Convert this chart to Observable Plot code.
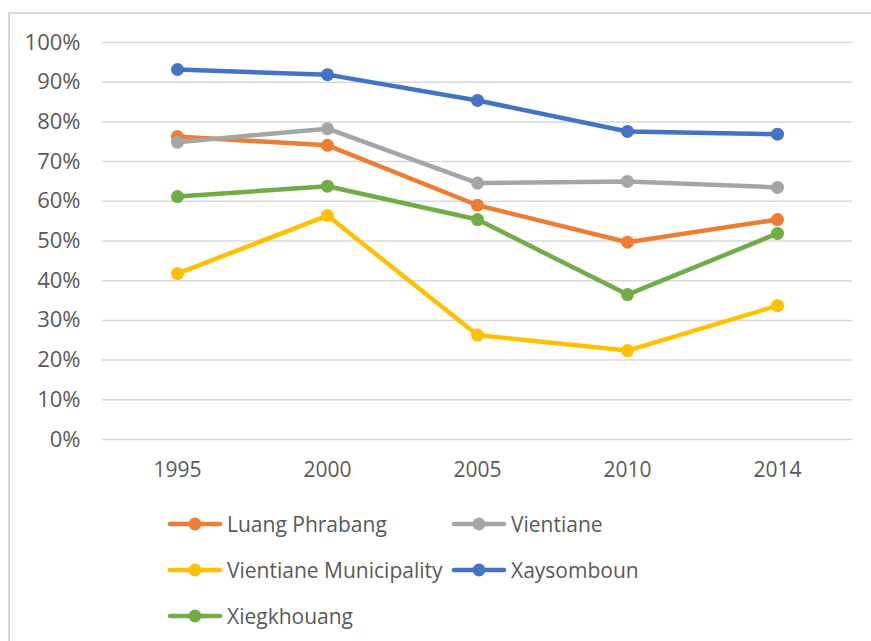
<!DOCTYPE html>
<html>
<head>
<meta charset="utf-8">
<script src="https://cdn.jsdelivr.net/npm/d3@7"></script>
<script src="https://cdn.jsdelivr.net/npm/@observablehq/plot@0.6"></script>
<style>
  html, body { margin: 0; padding: 0; background: #fff; }
  #wrap { position: relative; width: 871px; height: 641px; overflow: hidden; font-family: "Open Sans", sans-serif; }
  #frame { position: absolute; left: 8px; top: 12px; right: -10px; bottom: -10px; border-left: 2px solid #d9d9d9; border-top: 2px solid #d9d9d9; }
  #chart { position: absolute; left: 0; top: 0; }
  #legend { position: absolute; left: 167px; top: 506px; display: grid; grid-template-columns: 284px 300px; row-gap: 11px; }
  .item { display: flex; align-items: center; height: 35px; font-size: 21px; color: #595959; white-space: nowrap; }
  .item svg { margin-right: 4px; flex: none; }
</style>
</head>
<body>
<div id="wrap">
  <div id="frame"></div>
  <div id="chart"></div>
  <div id="legend"></div>
</div>
<script>
const years = ["1995", "2000", "2005", "2010", "2014"];
const seriesNames = ["Luang Phrabang", "Vientiane", "Vientiane Municipality", "Xaysomboun", "Xiegkhouang"];
const seriesColors = ["#ED7D31", "#A5A5A5", "#FFC000", "#4472C4", "#70AD47"];
const luangPhrabang = [0.763, 0.741, 0.590, 0.497, 0.554];
const vientiane = [0.749, 0.783, 0.646, 0.650, 0.635];
const vientianeMunicipality = [0.418, 0.564, 0.263, 0.224, 0.337];
const xaysomboun = [0.932, 0.919, 0.854, 0.776, 0.769];
const xiegkhouang = [0.612, 0.638, 0.554, 0.365, 0.519];
const yTicks = [0, 0.1, 0.2, 0.3, 0.4, 0.5, 0.6, 0.7, 0.8, 0.9, 1.0];

const seriesValues = [luangPhrabang, vientiane, vientianeMunicipality, xaysomboun, xiegkhouang];
const data = [];
seriesNames.forEach((name, i) => {
  years.forEach((yr, j) => data.push({series: name, year: yr, value: seriesValues[i][j]}));
});

const chart = Plot.plot({
  width: 871,
  height: 500,
  marginTop: 42,
  marginBottom: 61,
  marginLeft: 102,
  marginRight: 19,
  style: {fontFamily: "'Open Sans', sans-serif", fontSize: "20px", color: "#595959", background: "transparent"},
  x: {type: "point", domain: years, padding: 0.5, label: null},
  y: {domain: [0, 1], label: null},
  color: {domain: seriesNames, range: seriesColors},
  marks: [
    Plot.ruleY(yTicks, {stroke: "#d9d9d9", strokeWidth: 1.5}),
    Plot.axisY({ticks: yTicks, tickFormat: d3.format(".0%"), tickSize: 0, tickPadding: 22, fill: "#595959", fontSize: 22, label: null}),
    Plot.axisX({tickSize: 0, tickPadding: 23, fill: "#595959", fontSize: 21, label: null}),
    Plot.line(data, {x: "year", y: "value", z: "series", stroke: "series", strokeWidth: 4.5, strokeLinejoin: "round", strokeLinecap: "round"}),
    Plot.dot(data, {x: "year", y: "value", fill: "series", r: 6.5, stroke: "none"})
  ]
});
document.getElementById("chart").appendChild(chart);

const legend = document.getElementById("legend");
seriesNames.forEach((name, i) => {
  const item = document.createElement("div");
  item.className = "item";
  item.innerHTML = `<svg width="56" height="16"><line x1="3" y1="8" x2="53" y2="8" stroke="${seriesColors[i]}" stroke-width="4.5" stroke-linecap="round"/><circle cx="28" cy="8" r="6.5" fill="${seriesColors[i]}"/></svg><span>${name}</span>`;
  legend.appendChild(item);
});
</script>
</body>
</html>
